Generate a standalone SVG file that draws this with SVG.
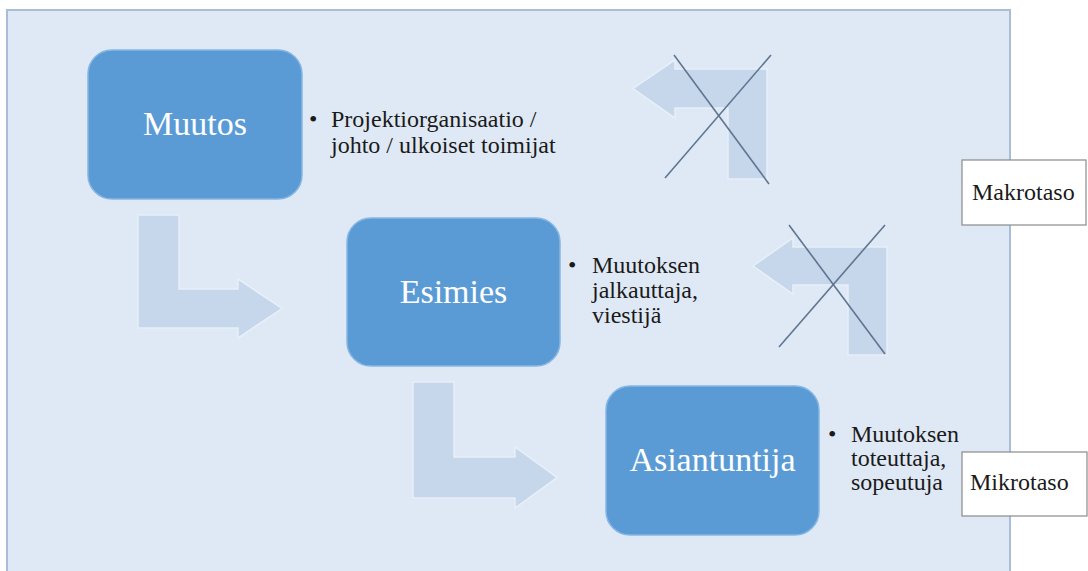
<svg xmlns="http://www.w3.org/2000/svg" width="1088" height="571" viewBox="0 0 1088 571">
  <style>
    .node rect.box { fill: #5b9bd5; stroke: #86b6e2; stroke-width: 1.5; }
    .node text.title { font-family: "Liberation Serif", "Times New Roman", serif; font-size: 34px; fill: #ffffff; text-anchor: middle; }
    .note { font-family: "Liberation Serif", "Times New Roman", serif; font-size: 24px; fill: #1a1a1a; }
    .flow { fill: #c6d6eb; stroke: #e8f0f9; stroke-width: 1.5; }
    .cross { stroke: #5f7590; stroke-width: 1.6; fill: none; }
    .level rect { fill: #ffffff; stroke: #8a8a8a; stroke-width: 1.2; }
    .level text { font-family: "Liberation Serif", "Times New Roman", serif; font-size: 24px; fill: #1a1a1a; }
  </style>

  <!-- page background and panel -->
  <rect x="0" y="0" width="1088" height="571" fill="#ffffff"/>
  <rect x="7" y="10" width="1003" height="565" fill="#dfe9f5" stroke="#a9bed6" stroke-width="2"/>

  <!-- bent arrows between levels -->
  <g id="connectors">
    <polygon class="flow" points="138,215 179,215 179,289 238,289 238,279 282,308.5 238,338 238,328 138,328"/>
    <polygon class="flow" points="413,382 454,382 454,457 515,457 515,447 557,477.5 515,508 515,498 413,498"/>
    <!-- crossed-out upward feedback arrows -->
    <polygon class="flow" points="633,88.5 675,60 675,69 767,69 767,179 728,179 728,108 675,108 675,118"/>
    <line class="cross" x1="674" y1="55" x2="769" y2="184"/>
    <line class="cross" x1="771" y1="55" x2="665" y2="178"/>
    <polygon class="flow" points="753,266 793,238 793,247 887,247 887,355 848,355 848,285 793,285 793,294"/>
    <line class="cross" x1="789" y1="225" x2="885" y2="354"/>
    <line class="cross" x1="885" y1="225" x2="779" y2="347"/>
  </g>

  <g id="node-muutos" class="node">
    <rect class="box" x="88" y="50" width="214" height="149" rx="24"/>
    <text class="title" x="195" y="135">Muutos</text>
    <text class="note" x="309" y="127">•</text>
    <text class="note" x="331" y="127">Projektiorganisaatio /</text>
    <text class="note" x="331" y="153">johto / ulkoiset toimijat</text>
  </g>

  <g id="node-esimies" class="node">
    <rect class="box" x="347" y="218" width="213" height="148" rx="24"/>
    <text class="title" x="453.5" y="303">Esimies</text>
    <text class="note" x="568" y="273">•</text>
    <text class="note" x="592" y="273">Muutoksen</text>
    <text class="note" x="592" y="298">jalkauttaja,</text>
    <text class="note" x="592" y="323">viestijä</text>
  </g>

  <g id="node-asiantuntija" class="node">
    <rect class="box" x="606" y="386" width="213" height="149" rx="24"/>
    <text class="title" x="712.5" y="471">Asiantuntija</text>
    <text class="note" x="828" y="442">•</text>
    <text class="note" x="851" y="442">Muutoksen</text>
    <text class="note" x="851" y="466">toteuttaja,</text>
    <text class="note" x="851" y="490">sopeutuja</text>
  </g>

  <g id="label-makrotaso" class="level">
    <rect x="962" y="160" width="124" height="65"/>
    <text x="972" y="200">Makrotaso</text>
  </g>

  <g id="label-mikrotaso" class="level">
    <rect x="962" y="452" width="125" height="64"/>
    <text x="970" y="490">Mikrotaso</text>
  </g>
</svg>
